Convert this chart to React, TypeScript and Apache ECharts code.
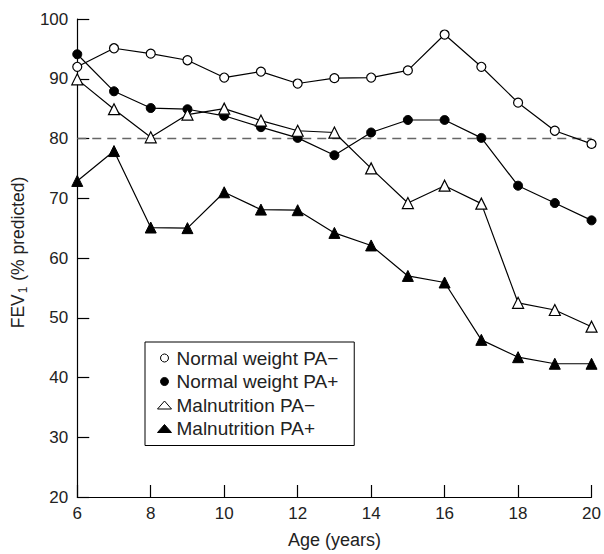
import React, { useEffect, useRef } from "react";
import * as echarts from "echarts";

const ages = [6, 7, 8, 9, 10, 11, 12, 13, 14, 15, 16, 17, 18, 19, 20];
const normalPAneg = [92, 95.1, 94.2, 93.1, 90.2, 91.2, 89.2, 90.1, 90.2, 91.4, 97.4, 92, 86, 81.3, 79.1];
const normalPApos = [94.1, 87.9, 85.1, 84.9, 83.8, 81.9, 80.1, 77.2, 81, 83.1, 83.1, 80.1, 72.1, 69.2, 66.3];
const malnPAneg = [89.9, 84.9, 80.2, 84, 85, 83, 81.3, 81, 75, 69.2, 72.1, 69.1, 52.5, 51.3, 48.5];
const malnPApos = [72.9, 77.9, 65.1, 65, 71, 68.1, 68, 64.2, 62.1, 57, 55.9, 46.3, 43.4, 42.3, 42.3];
const refLine = 80;
const seriesNames = ["Normal weight PA\u2212", "Normal weight PA+", "Malnutrition PA\u2212", "Malnutrition PA+"];

const FONT = "'Liberation Sans', Arial, sans-serif";
const TXT = "#222";

export default function App() {
  const ref = useRef<HTMLDivElement>(null);
  useEffect(() => {
    document.body.style.margin = "0";
    if (!ref.current) return;
    const chart = echarts.init(ref.current, null, { renderer: "svg" });
    const mk = (vals: number[]) => ages.map((a, i) => [a, vals[i]]);
    const base = {
      type: "line",
      lineStyle: { color: "#000", width: 1.2 },
      emphasis: { disabled: true },
      z: 3,
    };
    chart.setOption({
      animation: false,
      textStyle: { fontFamily: FONT },
      grid: { left: 77, right: 10, top: 19, bottom: 54 },
      xAxis: {
        type: "value",
        min: 6,
        max: 20,
        interval: 2,
        name: "Age (years)",
        nameLocation: "middle",
        nameGap: 34,
        nameTextStyle: { color: TXT, fontSize: 18, fontFamily: FONT },
        axisLine: { show: true, lineStyle: { color: "#000", width: 1.2 } },
        axisTick: { show: true, inside: true, length: 12, lineStyle: { color: "#000", width: 1.2 } },
        axisLabel: { color: TXT, fontSize: 17, margin: 8, fontFamily: FONT },
        splitLine: { show: false },
      },
      yAxis: {
        type: "value",
        min: 20,
        max: 100,
        interval: 10,
        name: "{a|FEV}{s|1}{a| (% predicted)}",
        nameLocation: "middle",
        nameRotate: 90,
        nameGap: 44,
        nameTextStyle: {
          color: TXT,
          fontFamily: FONT,
          fontSize: 17.5,
          padding: [0, 0, 0, 11],
          rich: {
            a: { fontSize: 17.5, color: TXT, fontFamily: FONT, lineHeight: 22, verticalAlign: "middle" },
            s: { fontSize: 12, color: TXT, fontFamily: FONT, lineHeight: 22, verticalAlign: "bottom", padding: [9, 1, 0, 1] },
          },
        },
        axisLine: { show: true, lineStyle: { color: "#000", width: 1.2 } },
        axisTick: { show: true, inside: true, length: 12, lineStyle: { color: "#000", width: 1.2 } },
        axisLabel: { color: TXT, fontSize: 17, margin: 9, fontFamily: FONT },
        splitLine: { show: false },
      },
      legend: {
        orient: "vertical",
        left: 145,
        top: 342,
        padding: [6, 16, 7, 12],
        borderColor: "#000",
        borderWidth: 1,
        itemGap: 3.5,
        itemWidth: 14,
        itemHeight: 8,
        symbolKeepAspect: true,
        selectedMode: false,
        textStyle: { fontSize: 19, lineHeight: 20, color: TXT, fontFamily: FONT },
        data: [
          { name: seriesNames[0], icon: "circle", itemStyle: { color: "#fff", borderColor: "#000", borderWidth: 1 } },
          { name: seriesNames[1], icon: "circle", itemStyle: { color: "#000", borderColor: "#000", borderWidth: 1 } },
          { name: seriesNames[2], icon: "triangle", itemStyle: { color: "#fff", borderColor: "#000", borderWidth: 1 } },
          { name: seriesNames[3], icon: "triangle", itemStyle: { color: "#000", borderColor: "#000", borderWidth: 1 } },
        ],
      },
      series: [
        {
          ...base,
          name: seriesNames[0],
          data: mk(normalPAneg),
          symbol: "circle",
          symbolSize: 9,
          itemStyle: { color: "#fff", borderColor: "#000", borderWidth: 1.2 },
          markLine: {
            silent: true,
            symbol: "none",
            label: { show: false },
            lineStyle: { type: [9, 6], color: "#666", width: 1.3 },
            data: [{ yAxis: refLine }],
            z: 1,
          },
          z: 4,
        },
        {
          ...base,
          name: seriesNames[1],
          data: mk(normalPApos),
          symbol: "circle",
          symbolSize: 9,
          itemStyle: { color: "#000", borderColor: "#000", borderWidth: 1 },
        },
        {
          ...base,
          name: seriesNames[2],
          data: mk(malnPAneg),
          symbol: "triangle",
          symbolSize: 11,
          itemStyle: { color: "#fff", borderColor: "#000", borderWidth: 1.2 },
        },
        {
          ...base,
          name: seriesNames[3],
          data: mk(malnPApos),
          symbol: "triangle",
          symbolSize: 11,
          itemStyle: { color: "#000", borderColor: "#000", borderWidth: 1 },
        },
      ],
    });
    return () => chart.dispose();
  }, []);
  return <div ref={ref} style={{ width: 604, height: 554 }} />;
}
